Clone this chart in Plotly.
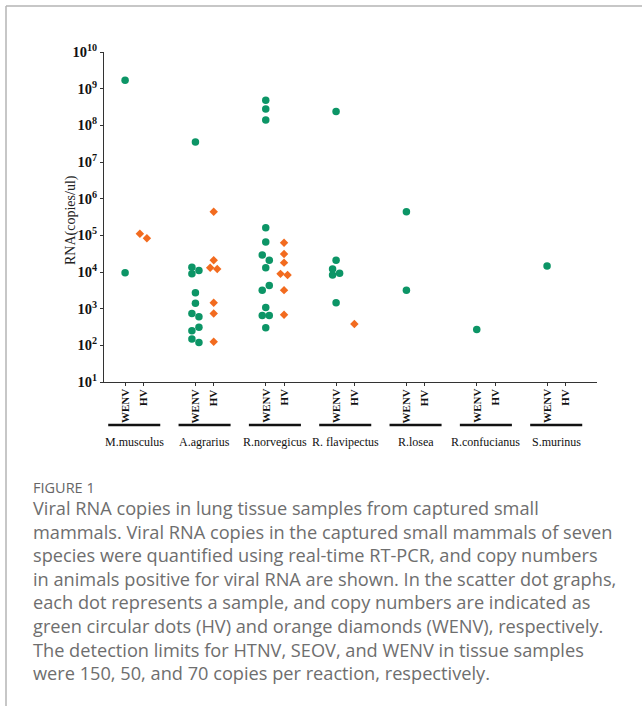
import math
import plotly.graph_objects as go

# ---------------- data ----------------
species = ["M.musculus", "A.agrarius", "R.norvegicus", "R. flavipectus",
           "R.losea", "R.confucianus", "S.murinus"]
tick_names = ["WENV", "HV"]

# green circles (WENV column)
wenv_values = [
    [1.7e9, 9.5e3],
    [3.5e7, 1.35e4, 1.1e4, 9.0e3, 2.7e3, 1.4e3, 740, 600, 310, 250, 150, 120],
    [4.8e8, 2.8e8, 1.4e8, 1.6e5, 6.6e4, 2.9e4, 2.1e4, 1.3e4, 4.3e3, 3.2e3,
     1.07e3, 650, 650, 300],
    [2.4e8, 2.1e4, 1.2e4, 9.3e3, 8.3e3, 1.45e3],
    [4.4e5, 3.2e3],
    [270],
    [1.45e4],
]
# orange diamonds (HV column)
hv_values = [
    [1.1e5, 8.3e4],
    [4.4e5, 2.1e4, 1.3e4, 1.2e4, 1.45e3, 740, 125],
    [6.3e4, 3.1e4, 1.8e4, 8.9e3, 8.3e3, 3.2e3, 680],
    [380],
    [],
    [],
    [],
]
y_tick_exponents = list(range(1, 11))

caption_title = "FIGURE 1"
caption_lines = [
    "Viral RNA copies in lung tissue samples from captured small",
    "mammals. Viral RNA copies in the captured small mammals of seven",
    "species were quantified using real-time RT-PCR, and copy numbers",
    "in animals positive for viral RNA are shown. In the scatter dot graphs,",
    "each dot represents a sample, and copy numbers are indicated as",
    "green circular dots (HV) and orange diamonds (WENV), respectively.",
    "The detection limits for HTNV, SEOV, and WENV in tissue samples",
    "were 150, 50, and 70 copies per reaction, respectively.",
]

# ---------------- layout constants ----------------
W, H = 642, 706
L, R, T, B = 104, 45, 52, 324
PW = W - L - R
PH = H - T - B
OFF = 0.13
GREEN = "#0c9566"
ORANGE = "#f26b1f"
SERIF = "Liberation Serif"


def py(pix):  # pixel y -> paper y
    return (H - B - pix) / PH


def px(pix):  # pixel x -> paper x
    return (pix - L) / PW


def swarm(center, vals, step=0.05, thresh=0.17):
    xs = []
    prev = None
    sign = 1
    for v in vals:
        lv = math.log10(v)
        if prev is not None and abs(prev - lv) < thresh:
            xs.append(center + sign * step)
            if xs[-2] == center:
                xs[-2] = center - sign * step
            sign = -sign
        else:
            xs.append(center)
        prev = lv
    return xs


fig = go.Figure()

wx, wy, hx, hy = [], [], [], []
for i, (wv, hvv) in enumerate(zip(wenv_values, hv_values)):
    wx += swarm(i - OFF, wv)
    wy += wv
    hx += swarm(i + OFF, hvv)
    hy += hvv

fig.add_trace(go.Scatter(x=wx, y=wy, mode="markers", name="WENV",
                         marker=dict(symbol="circle", size=7.5, color=GREEN),
                         showlegend=False, cliponaxis=False))
fig.add_trace(go.Scatter(x=hx, y=hy, mode="markers", name="HV",
                         marker=dict(symbol="diamond", size=6.5, color=ORANGE),
                         showlegend=False, cliponaxis=False))

tickvals = []
for i in range(len(species)):
    tickvals += [i - OFF, i + OFF]

fig.update_xaxes(range=[-0.43, 6.58], showgrid=False, zeroline=False,
                 showline=True, linecolor="#333", linewidth=1,
                 ticks="outside", ticklen=3, tickcolor="#333",
                 tickvals=tickvals, showticklabels=False)
fig.update_yaxes(type="log", range=[1, 10], showgrid=False, zeroline=False,
                 showline=True, linecolor="#333", linewidth=1,
                 ticks="outside", ticklen=3, tickcolor="#333",
                 tickvals=[10 ** e for e in y_tick_exponents],
                 ticktext=[f"<b>10<sup>{e}</sup></b>" for e in y_tick_exponents],
                 tickfont=dict(family=SERIF, size=14.5, color="#111"))

shapes = []
annotations = []
for i, name in enumerate(species):
    for j, t in enumerate(tick_names):
        annotations.append(dict(x=i - OFF if j == 0 else i + OFF, y=py(388),
                                xref="x", yref="paper", text=f"<b>{t}</b>",
                                textangle=-90, showarrow=False,
                                xanchor="center", yanchor="top", borderpad=0,
                                font=dict(family=SERIF, size=11, color="#111")))
    shapes.append(dict(type="line", xref="x", yref="paper",
                       x0=i - 0.37, x1=i + 0.37, y0=py(425), y1=py(425),
                       line=dict(color="#111", width=2.5)))
    annotations.append(dict(x=i, y=py(442), xref="x", yref="paper",
                            text=name, showarrow=False, xanchor="center",
                            yanchor="middle",
                            font=dict(family=SERIF, size=12, color="#111")))

annotations.append(dict(x=px(71), y=py(220), xref="paper", yref="paper",
                        text="RNA(copies/ul)", textangle=-90, showarrow=False,
                        xanchor="center", yanchor="middle",
                        font=dict(family=SERIF, size=14, color="#222")))

# frame
shapes.append(dict(type="line", xref="paper", yref="paper",
                   x0=px(6), x1=px(645), y0=py(6), y1=py(6),
                   line=dict(color="#b5b5b5", width=1.5)))
shapes.append(dict(type="line", xref="paper", yref="paper",
                   x0=px(6), x1=px(6), y0=py(6), y1=py(710),
                   line=dict(color="#b5b5b5", width=1.5)))

annotations.append(dict(x=px(32), y=py(487), xref="paper", yref="paper",
                        text=caption_title, showarrow=False, xanchor="left",
                        yanchor="middle", borderpad=0,
                        font=dict(family="Open Sans", size=14.5, color="#666")))
for k, line in enumerate(caption_lines):
    annotations.append(dict(x=px(32), y=py(508 + k * 23.6), xref="paper",
                            yref="paper", text=line, showarrow=False,
                            xanchor="left", yanchor="middle", borderpad=0,
                            font=dict(family="Open Sans", size=18.2, color="#6e6e6e")))

fig.update_layout(width=W, height=H, margin=dict(l=L, r=R, t=T, b=B),
                  paper_bgcolor="white", plot_bgcolor="white",
                  shapes=shapes, annotations=annotations)

fig.write_html("out.html", config={"displayModeBar": False},
               post_script="document.body.style.margin='0';document.body.style.padding='0';")
